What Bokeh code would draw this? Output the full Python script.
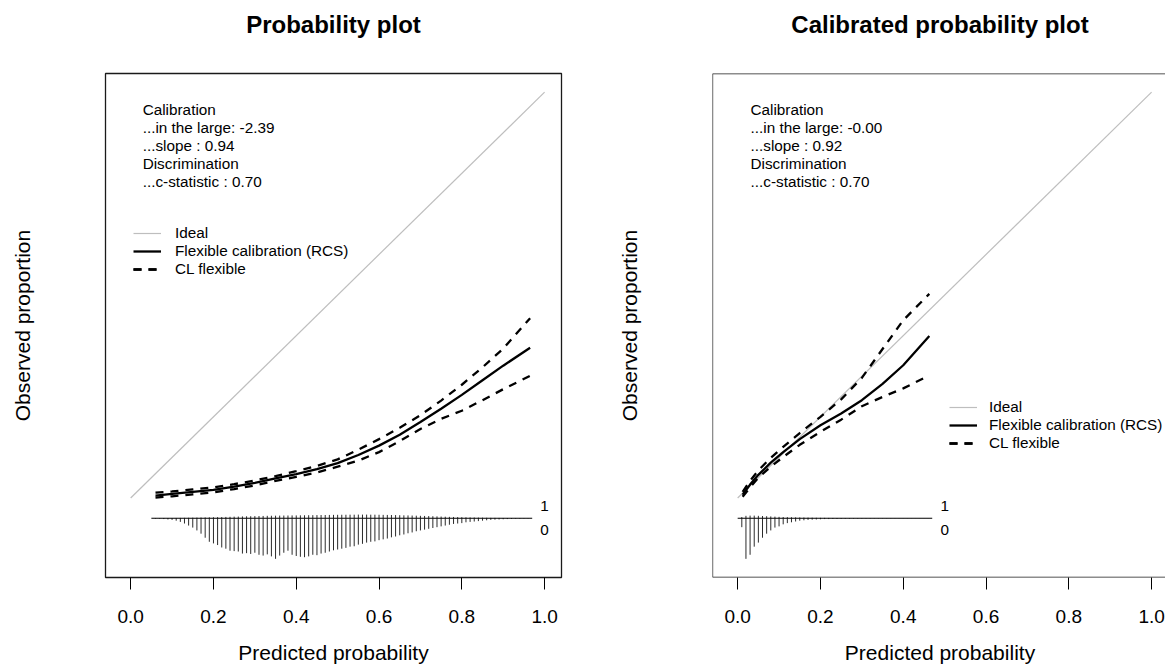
from bokeh.plotting import figure
from bokeh.layouts import row
from bokeh.models import Range1d, FixedTicker, Legend, LegendItem, Span, Title
from bokeh.embed import file_html
from bokeh.resources import INLINE
from bokeh.core.properties import value

FONT = "Liberation Sans"

# ---------------- data ----------------
x_ticks = [0.0, 0.2, 0.4, 0.6, 0.8, 1.0]
x_tick_labels = ["0.0", "0.2", "0.4", "0.6", "0.8", "1.0"]
panel_titles = ["Probability plot", "Calibrated probability plot"]
x_title = "Predicted probability"
y_title = "Observed proportion"
legend_labels = ["Ideal", "Flexible calibration (RCS)", "CL flexible"]
rug_labels = ["1", "0"]

ideal_x = [0.0, 1.0]
ideal_y = [0.0, 1.0]

# left panel: original model
left_x = [0.06, 0.10, 0.15, 0.20, 0.25, 0.30, 0.35, 0.40, 0.45, 0.50,
          0.55, 0.60, 0.65, 0.70, 0.75, 0.80, 0.85, 0.90, 0.965]
left_fit = [0.006, 0.010, 0.015, 0.020, 0.028, 0.037, 0.048, 0.059, 0.071, 0.086,
            0.106, 0.129, 0.156, 0.187, 0.220, 0.254, 0.290, 0.326, 0.370]
left_upper = [0.013, 0.016, 0.021, 0.026, 0.034, 0.043, 0.054, 0.066, 0.079, 0.095,
              0.119, 0.145, 0.173, 0.204, 0.240, 0.279, 0.322, 0.368, 0.443]
left_lower = [0.001, 0.004, 0.009, 0.014, 0.022, 0.031, 0.042, 0.052, 0.063, 0.077,
              0.092, 0.113, 0.140, 0.170, 0.195, 0.215, 0.241, 0.268, 0.301]
left_stats = ["Calibration", "...in the large: -2.39", "...slope : 0.94",
              "Discrimination", "...c-statistic : 0.70"]
left_bin_first = 0.06
left_f0 = [1, 1, 2, 3, 4, 6, 9, 13, 18, 23,
           30, 38, 48, 58, 62, 66, 72, 75, 80, 81,
           82, 87, 86, 88, 85, 90, 92, 89, 94, 100,
           92, 85, 80, 90, 93, 95, 96, 94, 90, 91,
           87, 85, 82, 79, 77, 75, 73, 70, 69, 65,
           63, 60, 58, 57, 54, 52, 50, 47, 45, 42,
           40, 37, 35, 32, 30, 28, 26, 24, 22, 20,
           18, 16, 14, 13, 12, 10, 9, 8, 7, 6,
           5, 4, 3.5, 3, 2.5, 2, 1.5, 1, 0.8, 0.5, 0.3]
left_f1 = [0.3, 0.3, 0.5, 0.5, 0.6, 0.7, 0.8, 1, 1.2, 1.4,
           1.6, 1.8, 2, 2.3, 2.5, 2.8, 3, 3.3, 3.6, 4,
           4.2, 4.5, 4.8, 5, 5.3, 5.5, 5.7, 6, 6.2, 6.4,
           6.5, 6.7, 6.8, 7, 7, 7.2, 7.4, 7.5, 7.6, 7.8,
           8, 8, 8.2, 8.4, 8.5, 8.6, 8.6, 8.8, 8.8, 9,
           9, 9, 8.8, 8.8, 8.6, 8.4, 8.2, 8, 7.8, 7.5,
           7.2, 7, 6.7, 6.4, 6, 5.7, 5.4, 5, 4.6, 4.2,
           3.8, 3.5, 3.2, 2.9, 2.6, 2.3, 2, 1.8, 1.6, 1.4,
           1.2, 1, 0.9, 0.8, 0.7, 0.6, 0.5, 0.4, 0.4, 0.3, 0.3]

# right panel: recalibrated model
right_x = [0.012, 0.03, 0.05, 0.08, 0.11, 0.15, 0.20, 0.25, 0.30, 0.35, 0.40, 0.463]
right_fit = [0.008, 0.033, 0.057, 0.087, 0.113, 0.145, 0.179, 0.208, 0.241, 0.281, 0.327, 0.399]
right_upper = [0.015, 0.042, 0.068, 0.099, 0.126, 0.160, 0.200, 0.243, 0.296, 0.367, 0.438, 0.503]
right_lower = [0.003, 0.026, 0.050, 0.077, 0.101, 0.131, 0.163, 0.193, 0.226, 0.249, 0.270, 0.302]
right_stats = ["Calibration", "...in the large: -0.00", "...slope : 0.92",
               "Discrimination", "...c-statistic : 0.70"]
right_bin_first = 0.01
right_f0 = [22, 100, 90, 70, 60, 48, 38, 30, 23, 20,
            15, 12, 10, 8, 6, 5, 4, 3.5, 3, 2.5,
            2, 2, 1.5, 1.5, 1.2, 1, 1, 0.8, 0.8, 0.7,
            0.6, 0.5, 0.5, 0.4, 0.4, 0.3, 0.3, 0.3, 0.2, 0.2,
            0.2, 0.1, 0.1, 0.1, 0.1, 0.1]
right_f1 = [3, 6, 6.5, 6.5, 6, 5.5, 5, 4.5, 4, 3.5,
            3, 2.8, 2.5, 2.2, 2, 1.8, 1.6, 1.4, 1.2, 1,
            0.9, 0.8, 0.7, 0.6, 0.5, 0.4, 0.4, 0.4, 0.3, 0.3,
            0.3, 0.3, 0.2, 0.2, 0.2, 0.2, 0.2, 0.1, 0.1, 0.1,
            0.1, 0.1, 0.1, 0.1, 0.1, 0.1]

# ---------------- layout / style ----------------
XLIM = (-0.02, 1.0)
YLIM = (-0.15, 1.0)
xpad = 0.04 * (XLIM[1] - XLIM[0])
ypad = 0.04 * (YLIM[1] - YLIM[0])
X0, X1 = XLIM[0] - xpad, XLIM[1] + xpad
Y0, Y1 = YLIM[0] - ypad, YLIM[1] + ypad
FRAME_W, FRAME_H = 456, 504
PX_X = FRAME_W / (X1 - X0)
LINE_BINS = -0.05
SEG_LEN = 0.1
STAT_Y = [0.957, 0.912, 0.869, 0.825, 0.781]
TXT = "15.3px"
BOX = "#1a1a1a"


def make_panel(title, xs, fit, upper, lower, stats, stat_x, bin_first, f0, f1,
               frame_w, x_end, border_left, border_right, legend_loc, legend_standoff,
               full_outline, title_offset):
    p = figure(frame_width=frame_w, frame_height=FRAME_H,
               x_range=Range1d(X0, x_end), y_range=Range1d(Y0, Y1),
               output_backend="svg", toolbar_location=None, title_location=None,
               min_border_left=border_left, min_border_right=border_right,
               min_border_top=73, min_border_bottom=93)
    p.grid.visible = False
    p.background_fill_color = "white"
    p.border_fill_color = "white"

    if full_outline:
        p.outline_line_color = BOX
        p.outline_line_width = 1.3
    else:
        p.outline_line_color = None
        p.add_layout(Span(location=X0, dimension="height", line_color=BOX, line_width=1.3))
        p.add_layout(Span(location=Y0, dimension="width", line_color=BOX, line_width=1.3))
        p.add_layout(Span(location=Y1, dimension="width", line_color=BOX, line_width=1.3))

    # spacer (nearest the box) then the bold title above it
    p.add_layout(Title(text=" ", text_font=FONT, text_font_size="12px", standoff=20), "above")
    p.add_layout(Title(text=title, text_font=FONT, text_font_size="24px",
                       text_font_style="bold", text_color="black", align="center",
                       standoff=0, offset=title_offset), "above")

    xa = p.xaxis[0]
    xa.ticker = FixedTicker(ticks=x_ticks)
    xa.major_label_overrides = {t: l for t, l in zip(x_ticks, x_tick_labels)}
    xa.axis_line_color = None
    xa.major_tick_out = 12
    xa.major_tick_in = 0
    xa.major_tick_line_color = "black"
    xa.major_tick_line_width = 1
    xa.minor_tick_line_color = None
    xa.major_label_text_font = FONT
    xa.major_label_text_font_size = "19px"
    xa.major_label_text_color = "black"
    xa.major_label_standoff = 20
    xa.axis_label = x_title
    xa.axis_label_text_font = FONT
    xa.axis_label_text_font_size = "21px"
    xa.axis_label_text_font_style = "normal"
    xa.axis_label_text_color = "black"
    xa.axis_label_standoff = 15

    ya = p.yaxis[0]
    ya.ticker = FixedTicker(ticks=[])
    ya.axis_line_color = None
    ya.major_tick_out = 0
    ya.major_tick_in = 0
    ya.minor_tick_line_color = None
    ya.major_label_standoff = 0
    ya.axis_label = y_title
    ya.axis_label_text_font = FONT
    ya.axis_label_text_font_size = "21px"
    ya.axis_label_text_font_style = "normal"
    ya.axis_label_text_color = "black"
    ya.axis_label_standoff = 72

    r_ideal = p.line(ideal_x, ideal_y, line_color="#BEBEBE", line_width=1.2)
    r_fit = p.line(xs, fit, line_color="black", line_width=2.3)
    r_up = p.line(xs, upper, line_color="black", line_width=2.3, line_dash="8 7")
    r_lo = p.line(xs, lower, line_color="black", line_width=2.3, line_dash="8 7")

    # rug histogram of predicted probabilities (0 below, 1 above)
    bins = [round(bin_first + 0.01 * i, 2) for i in range(len(f0))]
    maxf = max(max(f0), max(f1))
    b0 = [b for b, f in zip(bins, f0) if f > 0]
    l0 = [LINE_BINS - SEG_LEN * f / maxf for f in f0 if f > 0]
    b1 = [b for b, f in zip(bins, f1) if f > 0]
    l1 = [LINE_BINS + SEG_LEN * f / maxf for f in f1 if f > 0]
    p.segment(x0=b0, y0=[LINE_BINS] * len(b0), x1=b0, y1=l0, line_color="#2b2b2b", line_width=1)
    p.segment(x0=b1, y0=[LINE_BINS] * len(b1), x1=b1, y1=l1, line_color="#2b2b2b", line_width=1)
    p.line([min(bins) - 0.01, max(bins) + 0.01], [LINE_BINS, LINE_BINS], line_color="black", line_width=1.2)
    p.text(x=[max(bins) + 0.04] * 2, y=[LINE_BINS + 0.03, LINE_BINS - 0.03], text=rug_labels,
           text_align="center", text_baseline="middle", text_font=value(FONT),
           text_font_size=TXT, text_color="black")

    p.text(x=[stat_x] * len(stats), y=STAT_Y, text=stats, text_align="left",
           text_baseline="middle", text_font=value(FONT), text_font_size=TXT,
           text_color="black")

    legend = Legend(items=[LegendItem(label=legend_labels[0], renderers=[r_ideal]),
                           LegendItem(label=legend_labels[1], renderers=[r_fit]),
                           LegendItem(label=legend_labels[2], renderers=[r_up, r_lo])],
                    location=legend_loc)
    legend.label_text_font = FONT
    legend.label_text_font_size = TXT
    legend.label_text_color = "black"
    legend.glyph_width = 28
    legend.glyph_height = 18
    legend.label_height = 18
    legend.label_standoff = legend_standoff
    legend.spacing = 0
    legend.padding = 0
    legend.margin = 0
    legend.border_line_color = None
    legend.background_fill_alpha = 0
    p.add_layout(legend)
    return p


right_frame_w = 455
right_x_end = X0 + right_frame_w / PX_X

p1 = make_panel(panel_titles[0], left_x, left_fit, left_upper, left_lower, left_stats, 0.029,
                left_bin_first, left_f0, left_f1, FRAME_W, X1, 105, 53, (28, 299), 14, True, 0)
p2 = make_panel(panel_titles[1], right_x, right_fit, right_upper, right_lower, right_stats, 0.031,
                right_bin_first, right_f0, right_f1, right_frame_w, right_x_end, 96, 0, (237, 125), 12,
                False, 0)

layout = row(p1, p2)
open("out.html", "w").write(file_html(layout, INLINE))
